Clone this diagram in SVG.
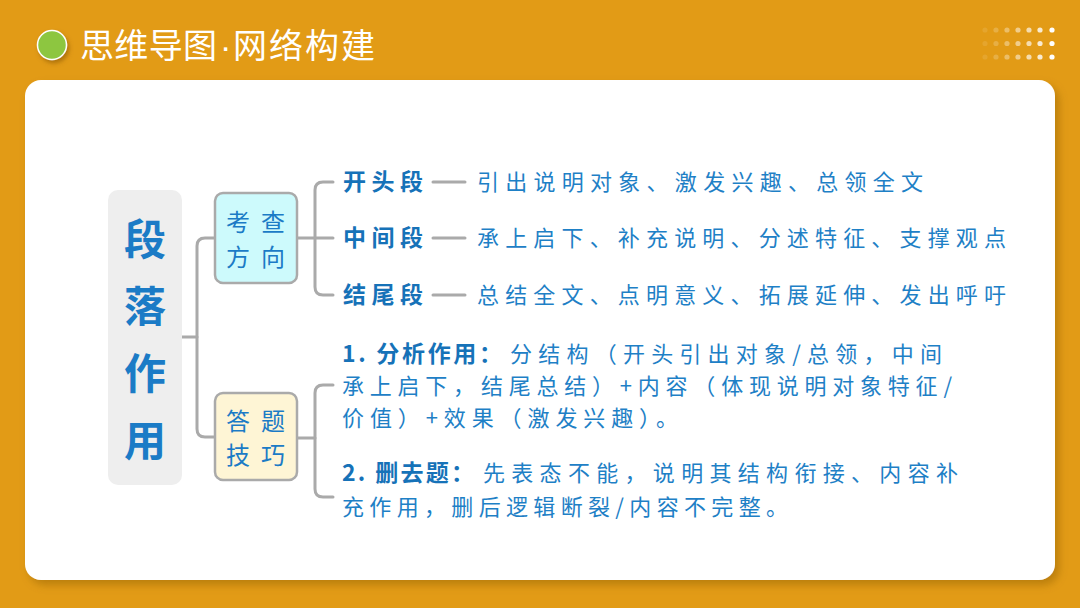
<svg xmlns="http://www.w3.org/2000/svg" width="1080" height="608" viewBox="0 0 1080 608">
<defs>
<filter id="sh" x="-5%" y="-5%" width="110%" height="115%">
<feDropShadow dx="4" dy="5" stdDeviation="4" flood-color="#8a5a00" flood-opacity="0.45"/>
</filter>
<filter id="sh2" x="-50%" y="-50%" width="200%" height="200%">
<feDropShadow dx="2" dy="3" stdDeviation="2" flood-color="#7a4a00" flood-opacity="0.5"/>
</filter>
<style>
.cjk{font-family:"Noto Sans CJK SC","Noto Sans",sans-serif;}
.t{fill:#ffffff;font-size:34px;}
.lbl{fill:#1672b8;font-size:23px;font-weight:bold;}
.txt{fill:#1e80c6;font-size:22px;}
.main{fill:#1b7bc6;font-size:42px;font-weight:bold;}
.nd{fill:#1b7bc6;font-size:24px;}
.ln{fill:none;stroke:#aaaaaa;stroke-width:3;stroke-linecap:round;stroke-linejoin:round;}
.dot{fill:#ffffff;}
</style>
</defs>
<rect x="0" y="0" width="1080" height="608" fill="#e29b16"/>
<g id="title">
<circle cx="52" cy="45" r="14.5" fill="#8dc63f" stroke="#ffffff" stroke-width="1.5" filter="url(#sh2)"/>
<text class="cjk t" y="58"><tspan x="80" textLength="137">思维导图</tspan><tspan x="220" font-family="Liberation Sans, sans-serif">·</tspan><tspan x="233" textLength="142">网络构建</tspan></text>
</g>
<g id="dots">
<g class="dot">
<circle cx="985" cy="30" r="2.6" opacity="0.1"/><circle cx="996" cy="30" r="2.6" opacity="0.2"/><circle cx="1007" cy="30" r="2.6" opacity="0.35"/><circle cx="1018" cy="30" r="2.6" opacity="0.5"/><circle cx="1029" cy="30" r="2.6" opacity="0.65"/><circle cx="1040" cy="30" r="2.6" opacity="0.8"/><circle cx="1052" cy="30" r="2.6" opacity="1"/>
<circle cx="985" cy="43.5" r="2.6" opacity="0.1"/><circle cx="996" cy="43.5" r="2.6" opacity="0.2"/><circle cx="1007" cy="43.5" r="2.6" opacity="0.35"/><circle cx="1018" cy="43.5" r="2.6" opacity="0.5"/><circle cx="1029" cy="43.5" r="2.6" opacity="0.65"/><circle cx="1040" cy="43.5" r="2.6" opacity="0.8"/><circle cx="1052" cy="43.5" r="2.6" opacity="1"/>
<circle cx="985" cy="57" r="2.6" opacity="0.1"/><circle cx="996" cy="57" r="2.6" opacity="0.2"/><circle cx="1007" cy="57" r="2.6" opacity="0.35"/><circle cx="1018" cy="57" r="2.6" opacity="0.5"/><circle cx="1029" cy="57" r="2.6" opacity="0.65"/><circle cx="1040" cy="57" r="2.6" opacity="0.8"/><circle cx="1052" cy="57" r="2.6" opacity="1"/>
</g>
</g>
<rect id="panel" x="25" y="80" width="1030" height="500" rx="16" fill="#ffffff" filter="url(#sh)"/>
<g id="connectors">
<path class="ln" d="M182 337 H197"/>
<path class="ln" d="M215 238 H205 Q197 238 197 246 V429 Q197 437 205 437 H215"/>
<path class="ln" d="M297 238 H333"/>
<path class="ln" d="M333 182 H323 Q315 182 315 190 V287 Q315 295 323 295 H333"/>
<path class="ln" d="M297 438 H315"/>
<path class="ln" d="M333 385 H323 Q315 385 315 393 V489 Q315 497 323 497 H333"/>
<path class="ln" d="M433 182 H465 M433 238 H465 M433 295 H465"/>
</g>
<g id="node-main">
<rect x="108" y="190" width="74" height="295" rx="10" fill="#eeeeee"/>
<text class="cjk main" text-anchor="middle"><tspan x="145" y="255">段</tspan><tspan x="145" y="322">落</tspan><tspan x="145" y="389">作</tspan><tspan x="145" y="456">用</tspan></text>
</g>
<g id="node-kaocha">
<rect x="215" y="193" width="82" height="90" rx="8" fill="#cdfafc" stroke="#aaaaaa" stroke-width="2.5"/>
<text class="cjk nd" text-anchor="middle" x="238 273" y="231">考查</text>
<text class="cjk nd" text-anchor="middle" x="238 273" y="266">方向</text>
</g>
<g id="node-dati">
<rect x="215" y="393" width="82" height="87" rx="8" fill="#fef5d5" stroke="#aaaaaa" stroke-width="2.5"/>
<text class="cjk nd" text-anchor="middle" x="238 273" y="430">答题</text>
<text class="cjk nd" text-anchor="middle" x="238 273" y="464">技巧</text>
</g>
<g id="node-kaitou">
<text class="cjk lbl" x="343" y="190" textLength="80">开头段</text>
<text class="cjk txt" x="477" y="190" textLength="446">引出说明对象、激发兴趣、总领全文</text>
</g>
<g id="node-zhongjian">
<text class="cjk lbl" x="343" y="246" textLength="80">中间段</text>
<text class="cjk txt" x="477" y="246" textLength="529">承上启下、补充说明、分述特征、支撑观点</text>
</g>
<g id="node-jiewei">
<text class="cjk lbl" x="343" y="303" textLength="80">结尾段</text>
<text class="cjk txt" x="477" y="303" textLength="529">总结全文、点明意义、拓展延伸、发出呼吁</text>
</g>
<g id="node-fenxi">
<text class="cjk lbl" x="342" y="362" textLength="160">1. 分析作用：</text>
<text class="cjk txt" x="510" y="362" textLength="432">分结构（开头引出对象/总领，中间</text>
<text class="cjk txt" x="342" y="394" textLength="610">承上启下，结尾总结）+内容（体现说明对象特征/</text>
<text class="cjk txt" x="342" y="426" textLength="336">价值）+效果（激发兴趣）。</text>
</g>
<g id="node-shanqu">
<text class="cjk lbl" x="342" y="481" textLength="132">2. 删去题：</text>
<text class="cjk txt" x="483" y="481" textLength="475">先表态不能，说明其结构衔接、内容补</text>
<text class="cjk txt" x="342" y="515" textLength="446">充作用，删后逻辑断裂/内容不完整。</text>
</g>
</svg>
